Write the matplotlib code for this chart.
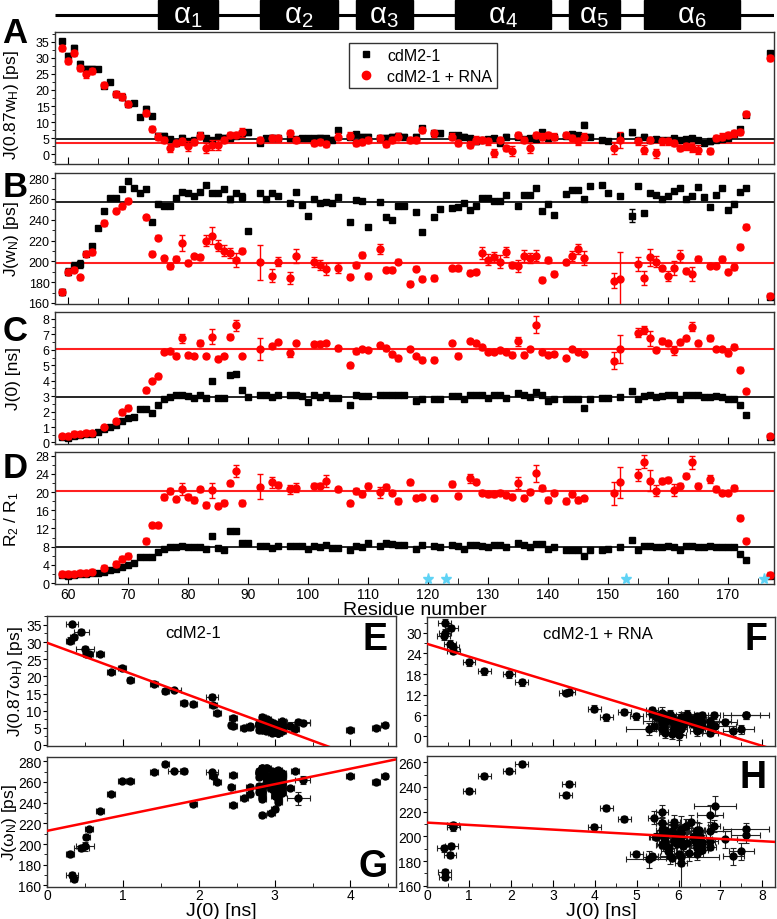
import numpy as np
import matplotlib
matplotlib.use('Agg')
from matplotlib import pyplot as plt
from matplotlib.lines import Line2D
from matplotlib.patches import Rectangle
from matplotlib.ticker import MultipleLocator

plt.rcParams['font.family'] = ['Liberation Sans', 'DejaVu Sans']
plt.rcParams['mathtext.fontset'] = 'stix'
plt.rcParams['mathtext.default'] = 'regular'

nan = np.nan
residues = np.arange(59, 178)

# secondary structure bar
helix_names = [r'$\alpha_1$', r'$\alpha_2$', r'$\alpha_3$', r'$\alpha_4$', r'$\alpha_5$', r'$\alpha_6$']
helix_start = [75, 92, 108, 124.5, 143.5, 156]
helix_end = [85, 105, 117.5, 140.5, 152, 172]

# J(0.87wH) [ps], residues 59..177 (10 per row)
jH_free = [35.2, 30.4, 33.0, 28.0, 26.6, 26.6, 26.5, 21.3, 22.5, 18.8,
           17.9, 15.7, 16.0, 11.6, 14.0, 11.9, 5.8, 5.8, 4.8, 3.5,
           5.2, 4.0, 4.5, 6.0, 5.0, 4.5, 5.5, 5.2, 5.0, 5.8,
           6.5, 6.8, nan, 3.6, 5.0, 5.2, 5.0, nan, 5.0, 4.8,
           5.0, 5.0, 5.0, 5.2, 5.0, 4.6, 7.6, nan, 5.5, 6.2,
           5.5, 5.5, nan, 5.0, 5.2, 5.5, 5.8, 5.5, nan, 5.5,
           8.2, nan, 6.5, 6.5, nan, 6.0, 6.0, 5.5, 5.0, 4.0,
           4.5, 4.8, 5.0, 3.5, 5.5, nan, 5.5, 4.8, 5.0, 4.8,
           7.0, 5.2, 5.5, nan, 5.8, 6.2, 6.0, 9.2, 5.5, nan,
           4.5, 4.2, nan, 5.8, nan, 6.8, 4.5, 5.5, 4.5, 4.8,
           4.5, 4.5, 5.0, 4.5, 4.8, 5.0, 4.5, 3.5, 4.0, 4.5,
           4.8, 5.0, 6.2, 7.9, 12.3, nan, nan, nan, 31.5]
jH_rna = [33.0, 29.0, 31.4, 26.8, 24.8, 25.9, nan, 21.5, nan, 18.8,
          17.9, 15.6, nan, nan, 12.8, 7.9, 5.5, 4.5, 2.0, 3.5,
          4.0, 2.5, 3.8, 5.8, 2.0, 3.0, 3.0, 4.5, 6.0, 6.0,
          6.8, nan, nan, 4.5, nan, 5.0, 5.0, nan, 6.5, 4.5,
          nan, nan, 3.5, 3.8, 3.2, nan, 5.5, nan, 5.8, 3.5,
          3.8, 4.5, nan, 5.0, 3.2, 4.5, 5.5, nan, 4.5, 4.5,
          7.5, nan, 6.5, nan, nan, 5.5, 3.5, nan, 3.0, 4.5,
          4.5, 4.0, 0.5, 4.5, 2.0, 1.0, 6.0, 4.5, 2.0, 6.0,
          5.5, 6.0, 5.5, nan, 6.0, 5.0, 4.0, 5.5, nan, nan,
          nan, nan, 2.0, 4.5, nan, nan, 4.0, 1.5, 4.5, 0.3,
          4.0, 4.0, 3.5, 2.0, 2.5, 2.0, 1.5, nan, 1.0, 5.0,
          5.5, 6.0, 6.5, 7.0, 12.5, nan, nan, nan, 30.0]

# J(wN) [ps]
jN_free = [170.4, 190.2, 196.0, 197.6, 207.2, 214.6, 232.2, 248.6, 260.8, 260.8,
           269.7, 277.7, 270.4, 265.5, 269.7, 238.3, 255.3, 253.7, 253.7, 261.1,
           267.1, 265.9, 262.7, 266.5, 273.8, 265.6, 265.6, 269.7, 260.1, 265.6,
           261.7, 229.6, nan, 265.6, 260.1, 265.6, 263.3, nan, 256.0, 266.5,
           254.6, 244.0, 260.1, 256.2, 257.5, 256.2, 262.3, nan, 237.7, 259.0,
           258.0, 233.5, nan, 256.9, 243.0, 240.2, 253.0, 253.0, nan, 247.9,
           228.1, nan, 243.1, 250.5, nan, 251.0, 252.1, 256.0, 249.5, 253.7,
           260.8, 260.8, 258.5, 257.8, 264.2, nan, 253.7, 264.2, 264.2, 270.4,
           248.9, 255.3, 245.0, nan, 264.9, 269.0, 269.0, 260.1, 272.9, nan,
           273.5, 265.9, nan, 263.3, nan, 244.0, 272.9, 246.6, 265.6, 264.2,
           260.1, 262.7, 268.1, 270.7, 260.1, 262.7, 271.3, 261.7, 252.7, 264.2,
           270.4, 249.8, 255.3, 266.5, 270.4, nan, nan, nan, 166.0]
jN_rna = [171.0, 190.2, 192.0, 184.8, 207.2, 209.0, nan, 237.0, nan, 248.9,
          253.1, 258.5, nan, nan, 242.5, 207.2, 222.6, 203.1, 195.4, 202.4,
          217.5, 198.6, 205.0, 204.0, 220.0, 224.8, 215.2, 210.4, 208.2, 201.4,
          210.4, nan, nan, 199.2, nan, 186.3, 199.8, nan, 183.8, 205.0,
          nan, nan, 199.2, 196.6, 192.8, nan, 193.5, nan, 185.4, 196.6,
          206.2, 186.0, nan, 212.0, 192.1, 192.1, 199.8, nan, 178.4, 192.8,
          183.2, nan, 184.0, nan, nan, 193.2, 193.5, nan, 189.0, 190.2,
          208.2, 201.7, 204.0, 199.8, 208.8, 196.6, 195.4, 205.0, 203.1, 205.6,
          182.2, 201.4, 188.0, nan, 199.2, 205.0, 212.0, 203.1, nan, nan,
          nan, nan, 181.5, 183.2, nan, nan, 197.6, 183.8, 204.0, 199.8,
          193.5, 186.0, 193.5, 205.0, 191.2, 188.0, 202.4, nan, 196.0, 196.0,
          202.4, 190.2, 194.5, 214.2, 233.5, nan, nan, nan, 167.1]

# J(0) [ns]
j0_free = [0.33, 0.30, 0.45, 0.50, 0.52, 0.55, 0.70, 0.84, 0.99, 1.10,
           1.41, 1.56, 1.68, 2.19, 2.17, 1.93, 2.43, 2.80, 2.95, 3.05,
           3.10, 3.00, 2.90, 3.10, 2.90, 3.99, 2.90, 2.85, 4.34, 4.45,
           3.37, 2.95, nan, 3.05, 3.05, 2.95, 3.10, nan, 3.05, 3.10,
           3.00, 2.60, 3.05, 2.95, 3.10, 2.85, 2.90, nan, 2.45, 3.10,
           3.00, 3.00, nan, 3.05, 3.05, 3.05, 3.05, 3.05, nan, 2.67,
           2.84, nan, 2.84, 2.80, nan, 3.00, 3.00, 2.80, 3.05, 3.10,
           3.05, 2.90, 3.05, 3.05, 2.90, nan, 3.20, 3.05, 2.96, 3.27,
           3.10, 2.67, 2.84, nan, 2.80, 2.80, 2.80, 2.24, 2.84, nan,
           2.88, 2.88, nan, 2.95, nan, 3.31, 2.84, 3.00, 3.10, 2.96,
           3.00, 3.05, 3.10, 2.80, 3.05, 3.05, 3.05, 2.96, 2.96, 3.00,
           2.96, 2.84, 2.84, 2.45, 1.80, nan, nan, nan, 0.35]
j0_rna = [0.42, 0.40, 0.58, 0.55, 0.63, 0.62, nan, 1.00, nan, 1.37,
          1.96, 2.26, nan, nan, 3.38, 3.99, 4.28, 5.85, 5.90, 5.63,
          6.75, 5.65, 5.60, 6.43, 5.60, 6.86, 5.42, 5.60, 6.85, 7.60,
          5.60, nan, nan, 6.06, nan, 6.25, 6.50, nan, 5.80, 6.45,
          nan, nan, 6.35, 6.40, 6.45, nan, 6.10, nan, 4.99, 5.90,
          6.05, 6.00, nan, 6.30, 6.10, 5.70, 5.45, nan, 6.06, 5.60,
          5.37, nan, 5.37, nan, nan, 6.45, 5.63, nan, 6.56, 6.43,
          6.17, 5.89, 5.85, 5.96, 5.89, 5.68, 6.56, 5.68, 6.06, 7.61,
          5.85, 5.68, 5.74, nan, 5.46, 6.06, 5.89, 5.74, nan, nan,
          nan, nan, 5.30, 6.06, nan, nan, 7.10, 7.30, 6.75, 6.02,
          6.56, 6.43, 5.96, 6.49, 6.75, 7.50, 6.43, nan, 6.75, 6.06,
          6.06, 5.78, 6.21, 4.71, 3.31, nan, nan, nan, 0.43]

# R2/R1
r21_free = [1.8, 1.6, 1.8, 1.9, 2.0, 2.2, 2.3, 2.5, 2.8, 3.2,
            3.5, 3.9, 4.4, 5.7, 5.7, 5.7, 6.8, 7.5, 8.0, 8.0,
            8.1, 7.9, 7.9, 8.0, 7.4, 10.3, 7.6, 7.3, 11.5, 11.5,
            8.8, 8.7, nan, 8.1, 8.1, 7.8, 8.2, nan, 8.1, 8.1,
            8.1, 7.5, 8.1, 7.9, 8.4, 7.6, 7.8, nan, 7.2, 8.2,
            8.0, 8.7, nan, 8.1, 8.7, 8.6, 8.4, 8.4, nan, 7.5,
            8.4, nan, 8.1, 7.9, nan, 8.4, 8.2, 7.5, 8.4, 8.4,
            8.2, 7.9, 8.4, 8.4, 7.9, nan, 8.9, 8.4, 7.9, 8.6,
            8.6, 7.5, 7.9, nan, 7.3, 7.3, 7.3, 6.0, 7.3, nan,
            7.3, 7.5, nan, 7.9, nan, 9.4, 7.2, 8.1, 8.1, 8.0,
            8.0, 8.1, 8.0, 7.3, 8.1, 8.1, 8.0, 7.9, 8.1, 8.0,
            7.9, 7.9, 7.9, 6.4, 5.0, nan, nan, nan, 1.5]
r21_rna = [2.0, 2.0, 2.1, 2.2, 2.3, 2.5, nan, 3.3, nan, 4.2,
           5.3, 6.0, nan, nan, 9.2, 12.7, 12.7, 18.9, 20.2, 18.4,
           20.6, 19.0, 18.3, 20.6, 17.2, 20.4, 17.0, 17.7, 21.9, 24.6,
           17.6, nan, nan, 21.2, nan, 22.1, 21.6, nan, 20.6, 21.0,
           nan, nan, 21.4, 21.4, 22.5, nan, 20.6, nan, 17.5, 20.2,
           19.6, 21.4, nan, 20.0, 21.2, 19.9, 18.0, nan, 22.1, 18.8,
           19.0, nan, 18.7, nan, nan, 21.8, 19.2, nan, 23.0, 22.3,
           19.9, 19.6, 19.6, 19.9, 19.3, 19.0, 21.9, 18.8, 20.1, 24.1,
           20.9, 18.3, 19.9, nan, 18.0, 19.6, 18.3, 18.6, nan, nan,
           nan, nan, 19.7, 22.1, nan, nan, 23.8, 26.7, 22.5, 20.3,
           22.4, 22.7, 20.4, 21.4, 23.6, 26.5, 21.4, nan, 22.9, 20.7,
           19.9, 19.9, 20.9, 14.4, 9.3, nan, nan, nan, 1.8]

# errors: typical value, plus the residues with larger bars
err_jH_free = (0.7, {60: 1.0, 61: 0.9, 62: 0.9, 73: 0.9})
err_jH_rna = (1.0, {77: 1.3, 80: 1.5, 83: 1.5, 84: 1.5, 85: 1.5, 89: 1.5, 128: 1.3,
                    131: 1.3, 134: 1.5, 137: 1.5, 151: 1.8, 152: 2.5, 156: 1.5,
                    158: 1.5, 164: 1.3, 165: 1.5})
err_jN_free = (1.5, {59: 3, 60: 3, 61: 3, 62: 4, 87: 3, 89: 4, 154: 6})
err_jN_rna = (2.5, {79: 8, 83: 5, 84: 8, 85: 5, 86: 5, 87: 5, 88: 7, 92: 17, 94: 6,
                    95: 4, 97: 6, 98: 7, 101: 5, 102: 5, 103: 6, 105: 5, 112: 5,
                    129: 6, 130: 5, 131: 5, 132: 6, 133: 5, 135: 6, 136: 6, 137: 5,
                    138: 5, 144: 5, 145: 5, 146: 7, 151: 7, 152: 26, 155: 7, 156: 7,
                    157: 8, 158: 5, 160: 5, 161: 7, 162: 6, 164: 7})
err_j0_free = (0.05, {59: 0.08, 61: 0.1, 62: 0.12, 71: 0.08, 73: 0.08, 89: 0.1, 154: 0.15})
err_j0_rna = (0.15, {79: 0.3, 82: 0.2, 84: 0.5, 88: 0.35, 92: 0.7, 97: 0.25, 135: 0.3,
                     138: 0.55, 151: 0.55, 152: 0.9, 155: 0.3, 156: 0.25, 157: 0.5,
                     159: 0.2, 161: 0.3, 164: 0.3, 167: 0.2})
err_r21_free = (0.25, {84: 0.3, 87: 0.35, 88: 0.35, 154: 0.4})
err_r21_rna = (0.6, {79: 1.3, 84: 1.6, 88: 1.3, 92: 2.8, 94: 1.3, 97: 1.0, 98: 1.0,
                     103: 1.3, 112: 1.2, 127: 1.0, 135: 1.3, 138: 1.8, 151: 2.5,
                     152: 3.5, 155: 1.3, 156: 1.4, 157: 2.3, 158: 1.2, 161: 1.3,
                     164: 1.4, 167: 0.9})

# mean values (free, + RNA)
avg_jH = [4.9, 3.6]
avg_jN = [257.5, 198.0]
avg_j0 = [2.97, 6.07]
avg_r21 = [7.85, 20.3]

star_residues = [120, 123, 153, 176]
star_level = 0.8

# linear fits (intercept, slope)
fit_E = [29.8, -8.16]
fit_F = [26.8, -3.71]
fit_G = [212.7, 15.0]
fit_H = [211.1, -1.88]


def arr(v):
    return np.array(v, dtype=float)


def errs(spec):
    e = np.full(len(residues), spec[0], dtype=float)
    for r, v in spec[1].items():
        e[r - residues[0]] = v
    return e


W, H = 777, 920
fig = plt.figure(figsize=(W / 100, H / 100), dpi=100)


def box(x0, y0, x1, y1):
    return [x0 / W, 1 - y1 / H, (x1 - x0) / W, (y1 - y0) / H]


xlo, xhi = 57.9, 177.7
tkSize = 9
lbSize = 12.5

# helix bar
axh = fig.add_axes(box(55, 0, 774, 31))
axh.set_xlim(xlo, xhi)
axh.set_ylim(0, 1)
axh.axis('off')
axh.plot([xlo, xhi], [0.5, 0.5], color='k', lw=2.2, solid_capstyle='butt')
for name, s, e in zip(helix_names, helix_start, helix_end):
    axh.add_patch(Rectangle((s, 0.03), e - s, 0.94, color='k'))
    axh.text((s + e) / 2, 0.5, name, color='white', fontsize=21, ha='center', va='center')

rows = [
    (33, 165, arr(jH_free), errs(err_jH_free), arr(jH_rna), errs(err_jH_rna), avg_jH,
     (-3, 38), 5, 2.5, 'J(0.87w$_\\mathregular{H}$) [ps]', 0.45, 'A', 17),
    (174, 305, arr(jN_free), errs(err_jN_free), arr(jN_rna), errs(err_jN_rna), avg_jN,
     (159, 285), 20, 10, 'J(w$_\\mathregular{N}$) [ps]', 0.5, 'B', 171),
    (313, 445, arr(j0_free), errs(err_j0_free), arr(j0_rna), errs(err_j0_rna), avg_j0,
     (-0.1, 8.45), 1, 0.5, 'J(0) [ns]', 0.5, 'C', 315),
    (453, 585, arr(r21_free), errs(err_r21_free), arr(r21_rna), errs(err_r21_rna), avg_r21,
     (-0.2, 28.8), 4, 2, 'R$_\\mathregular{2}$ / R$_\\mathregular{1}$', 0.5, 'D', 452),
]

axes = []
for (y0, y1, fr, fe, rn, re_, avg, ylim, maj, mnr, ylab, ly, letter, ltop) in rows:
    ax = fig.add_axes(box(55, y0, 774, y1))
    ax.errorbar(residues, fr, yerr=fe, fmt='s', color='k', ms=4, elinewidth=1,
                capsize=2.5, capthick=1, zorder=3)
    ax.errorbar(residues, rn, yerr=re_, fmt='o', color='#ff0000', ms=5, elinewidth=1,
                capsize=2.5, capthick=1, zorder=4)
    ax.axhline(avg[0], color='k', lw=1.2, zorder=2)
    ax.axhline(avg[1], color='#ff2020', lw=1.5, zorder=2)
    ax.set_xlim(xlo, xhi)
    ax.set_ylim(*ylim)
    ax.xaxis.set_major_locator(MultipleLocator(10))
    ax.xaxis.set_minor_locator(MultipleLocator(5))
    ax.yaxis.set_major_locator(MultipleLocator(maj))
    ax.yaxis.set_minor_locator(MultipleLocator(mnr))
    ax.tick_params(axis='x', which='both', direction='in', labelbottom=False, pad=2)
    ax.tick_params(axis='x', which='major', length=5)
    ax.tick_params(axis='x', which='minor', length=4)
    ax.tick_params(axis='y', which='both', direction='out', labelsize=tkSize, pad=1)
    ax.tick_params(axis='y', which='major', length=3)
    ax.tick_params(axis='y', which='minor', length=2)
    ax.set_ylabel(ylab, fontsize=lbSize)
    ax.yaxis.set_label_coords(-0.047, ly)
    for sp in ax.spines.values():
        sp.set_linewidth(1.0)
        sp.set_color('#333333')
    fig.text(15 / W, 1 - ltop / H, letter, fontsize=25, fontweight='bold',
             ha='center', va='top')
    axes.append(ax)

axA, axB, axC, axD = axes
axA.legend(handles=[Line2D([], [], ls='none', marker='s', color='k', ms=5),
                    Line2D([], [], ls='none', marker='o', color='#ff0000', ms=6)],
           labels=['cdM2-1', 'cdM2-1 + RNA'], loc='upper center',
           bbox_to_anchor=(0.512, 0.975), fontsize=11.5, frameon=True, fancybox=False,
           edgecolor='k', borderpad=0.3, handletextpad=0.6, labelspacing=0.35,
           handlelength=1.5)
axD.plot(star_residues, [star_level] * len(star_residues), ls='none', marker='*',
         color='#5fd3f5', ms=8, zorder=5)
axD.tick_params(axis='x', labelbottom=True, labelsize=tkSize + 1)
axD.set_xlabel('Residue number', fontsize=lbSize + 1.5, labelpad=0)

# correlation panels
corr = [
    ((47, 617, 396, 747), arr(j0_free), errs(err_j0_free), arr(jH_free), errs(err_jH_free),
     fit_E, (0, 4.6), (-0.3, 37.6), 5, 2.5, 'E', 0.82, 'cdM2-1', 0.42,
     'J(0.87ω$_\\mathregular{H}$) [ps]', -0.062, False),
    ((427, 618, 775, 747), arr(j0_rna), errs(err_j0_rna), arr(jH_rna), errs(err_jH_rna),
     fit_F, (0, 8.3), (-2.9, 34.6), 6, 3, 'F', 0.83, 'cdM2-1 + RNA', 0.49, None, 0, False),
    ((47, 758, 396, 888), arr(j0_free), errs(err_j0_free), arr(jN_free), errs(err_jN_free),
     fit_G, (0, 4.6), (158.5, 284), 20, 10, 'G', 0.16, None, 0,
     'J(ω$_\\mathregular{N}$) [ps]', -0.08, True),
    ((427, 757, 775, 888), arr(j0_rna), errs(err_j0_rna), arr(jN_rna), errs(err_jN_rna),
     fit_H, (0, 8.3), (159, 265), 20, 10, 'H', 0.84, None, 0, None, 0, True),
]

for (bx, x, xe, y, ye, fit, xl, yl, maj, mnr, letter, ly, title, tx, ylab, lx, showx) in corr:
    ax = fig.add_axes(box(*bx))
    ok = ~np.isnan(x) & ~np.isnan(y)
    ax.errorbar(x[ok], y[ok], xerr=xe[ok], yerr=ye[ok], fmt='o', color='k', ms=5,
                ecolor='#222222', elinewidth=0.8, capsize=2, capthick=0.8, zorder=3)
    xs = np.array(xl)
    ax.plot(xs, fit[0] + fit[1] * xs, color='#ff0000', lw=1.8, zorder=4)
    ax.set_xlim(*xl)
    ax.set_ylim(*yl)
    ax.xaxis.set_major_locator(MultipleLocator(1))
    ax.xaxis.set_minor_locator(MultipleLocator(0.5))
    ax.yaxis.set_major_locator(MultipleLocator(maj))
    ax.yaxis.set_minor_locator(MultipleLocator(mnr))
    ax.tick_params(axis='x', which='both', direction='in', labelbottom=showx,
                   labelsize=tkSize + 1, pad=1)
    ax.tick_params(axis='x', which='major', length=5)
    ax.tick_params(axis='x', which='minor', length=3)
    ax.tick_params(axis='y', which='both', direction='out', labelsize=tkSize + 1, pad=1)
    ax.tick_params(axis='y', which='major', length=3)
    ax.tick_params(axis='y', which='minor', length=2)
    for sp in ax.spines.values():
        sp.set_linewidth(1.0)
        sp.set_color('#333333')
    ax.text(0.977, ly, letter, transform=ax.transAxes, ha='right', va='center',
            fontsize=27, fontweight='bold')
    if title:
        ax.text(tx, 0.87, title, transform=ax.transAxes, ha='center', va='center',
                fontsize=12)
    if ylab:
        ax.set_ylabel(ylab, fontsize=lbSize)
        ax.yaxis.set_label_coords(lx, 0.5)
    if showx:
        ax.set_xlabel('J(0) [ns]', fontsize=lbSize + 1.5, labelpad=0)

fig.savefig('out.png', dpi=100)
